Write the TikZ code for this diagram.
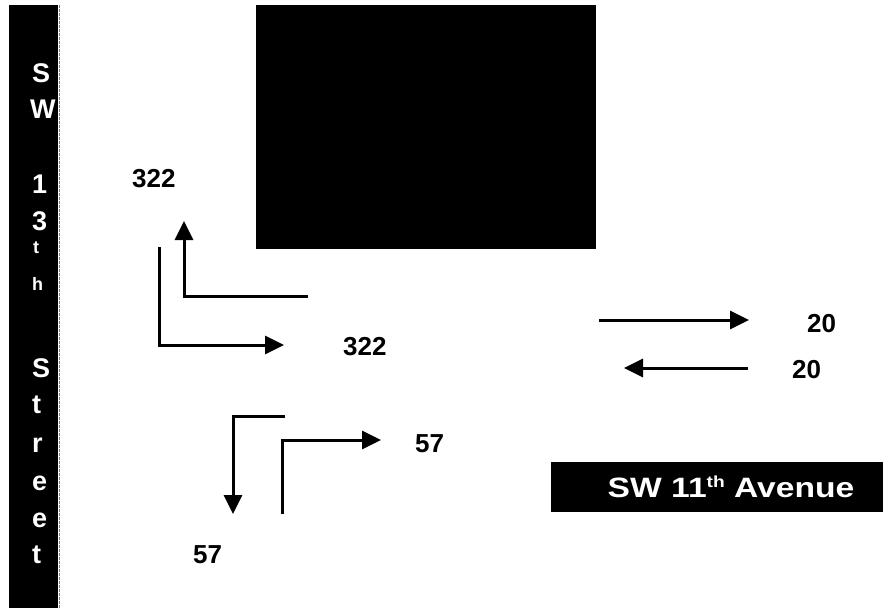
\documentclass[tikz,border=0pt]{standalone}
\usepackage{fontspec}
\setmainfont{Liberation Sans}
\usetikzlibrary{arrows.meta}
\begin{document}
\begin{tikzpicture}[x=1pt,y=-1pt,
  road/.style={fill=black,draw=none},
  barletter/.style={anchor=base west,inner sep=0pt,text=white,font=\fontsize{27}{27}\selectfont\bfseries},
  smallletter/.style={anchor=base west,inner sep=0pt,text=white,font=\fontsize{18}{18}\selectfont\bfseries},
  count/.style={anchor=base west,inner sep=0pt,text=black,font=\fontsize{26}{26}\selectfont\bfseries},
  flow/.style={line width=3pt,-{Triangle[length=19pt,width=18pt]},line join=miter},
  plain/.style={line width=3pt,line join=miter}]
\useasboundingbox (0,0) rectangle (883,608);
% SW 13th Street bar
\fill[road] (9,5) rectangle (58,608);
\draw[gray,line width=0.6pt,dash pattern=on 3pt off 1pt] (59,5) -- (59,608);
\node[barletter] (s1) at (32,82) {S};
\node[barletter] (s2) at (30,118) {W};
\node[barletter] (s3) at (32,193) {1};
\node[barletter] (s4) at (32,230) {3};
\node[smallletter] (s5) at (33,253) {t};
\node[smallletter] (s6) at (32,290) {h};
\node[barletter] (s7) at (32,377) {S};
\node[barletter] (s8) at (32,413) {t};
\node[barletter] (s9) at (32,452) {r};
\node[barletter] (s10) at (32,490) {e};
\node[barletter] (s11) at (32,527) {e};
\node[barletter] (s12) at (32,563) {t};
% building block
\fill[road] (256,5) rectangle (596,249);
% SW 11th Avenue label
\fill[road] (551,462) rectangle (883,512);
\node[text=white,font=\fontsize{28}{28}\selectfont\bfseries,inner sep=0pt] (ave) at (731,487) {\scalebox{1.2}[1]{SW 11\raisebox{10pt}{\fontsize{16}{16}\selectfont th} Avenue}};
% counts
\node[count] (n322a) at (132,187) {322};
\node[count] (n322b) at (343,355) {322};
\node[count] (n57a) at (415,452) {57};
\node[count] (n57b) at (193,563) {57};
\node[count] (n20a) at (807,332) {20};
\node[count] (n20b) at (792,378) {20};
% arrow end points
\coordinate (a0) at (308,296); \coordinate (a1) at (184,296); \coordinate (a2) at (184,221);
\coordinate (b0) at (159,247); \coordinate (b1) at (159,345); \coordinate (b2) at (284,345);
\coordinate (c0) at (285,416); \coordinate (c1) at (233,416); \coordinate (c2) at (233,514);
\coordinate (d0) at (282,514); \coordinate (d1) at (282,440); \coordinate (d2) at (381,440);
\coordinate (e0) at (599,320); \coordinate (e1) at (749,320);
\coordinate (f0) at (748,368); \coordinate (f1) at (624,368);
\draw[flow] (a0) -- (a1) -- (a2);
\draw[flow] (b0) -- (b1) -- (b2);
\draw[flow] (c0) -- (c1) -- (c2);
\draw[flow] (d0) -- (d1) -- (d2);
\draw[flow] (e0) -- (e1);
\draw[flow] (f0) -- (f1);
\end{tikzpicture}
\end{document}
